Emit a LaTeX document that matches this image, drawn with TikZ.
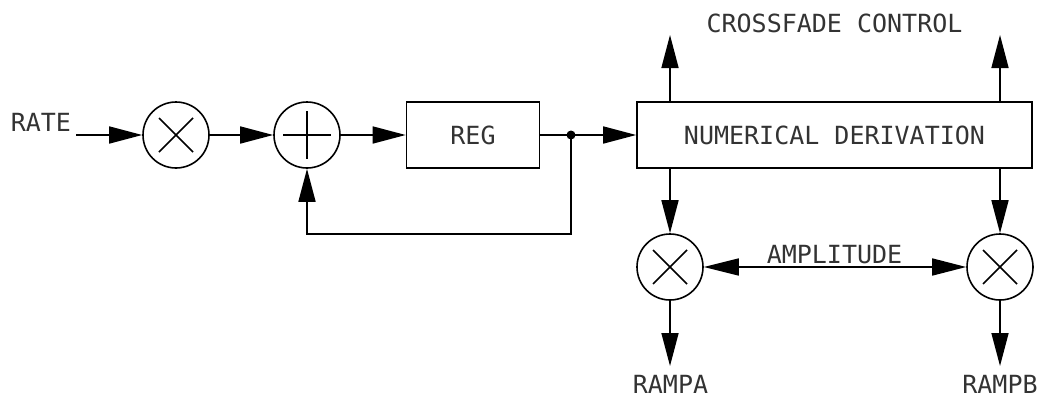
\documentclass[tikz,border=0pt]{standalone}
\usepackage{fontspec}
\newfontfamily\cadfont{DejaVu Sans Mono}
\usetikzlibrary{arrows.meta,calc}
\begin{document}
\begin{tikzpicture}[x=1pt,y=-1pt,
  line width=1.6pt,
  arr/.style={-{Triangle[length=33pt,width=17pt]}},
  lbl/.style={font=\cadfont\fontsize{25}{25}\selectfont, inner sep=0pt, text=black!80},
  opcircle/.style={draw, circle, minimum size=66pt, inner sep=0pt},
  block/.style={draw, rectangle, inner sep=0pt, font=\cadfont\fontsize{25}{25}\selectfont, text=black!80}
]
\useasboundingbox (0,0) rectangle (1046,399);
% nodes
\coordinate (in) at (76,135);
\node[lbl, anchor=base west] (rate) at (10,131) {RATE};
\node[opcircle] (m1) at (176,135) {};
\node[opcircle] (s1) at (307,135) {};
\node[block, minimum width=133pt, minimum height=66pt] (reg) at (473,135) {REG};
\node[block, minimum width=395pt, minimum height=66pt] (nd) at (834.5,135) {NUMERICAL DERIVATION};
\coordinate (dot) at (571,135);
\node[opcircle] (m2) at (670,267) {};
\node[opcircle] (m3) at (1000,267) {};
\coordinate (cfa) at (670,35);
\coordinate (cfb) at (1000,35);
\coordinate (ra) at (670,366);
\coordinate (rb) at (1000,366);
\coordinate (fb) at (571,234);
\node[lbl, anchor=base] (cf) at (834.5,32) {CROSSFADE CONTROL};
\node[lbl, anchor=base] (amp) at (834.5,263) {AMPLITUDE};
\node[lbl, anchor=base] (rampa) at (670.5,393) {RAMPA};
\node[lbl, anchor=base] (rampb) at (1000,393) {RAMPB};
% symbols inside circles
\foreach \c in {m1,m2,m3}{
  \draw ($(\c)+(-17,-17)$) -- ($(\c)+(17,17)$);
  \draw ($(\c)+(-17,17)$) -- ($(\c)+(17,-17)$);
}
\draw ($(s1)+(-24,0)$) -- ($(s1)+(24,0)$);
\draw ($(s1)+(0,-24)$) -- ($(s1)+(0,24)$);
% connectors
\draw[arr] (in) -- (m1.west);
\draw[arr] (m1.east) -- (s1.west);
\draw[arr] (s1.east) -- (reg.west);
\draw (reg.east) -- (dot);
\draw[arr] (dot) -- (nd.west);
\fill (dot) circle (4.5pt);
\draw[arr] (dot) -- (fb) -| (s1.south);
\draw[arr] (nd.north -| cfa) -- (cfa);
\draw[arr] (nd.north -| cfb) -- (cfb);
\draw[arr] (nd.south -| m2) -- (m2.north);
\draw[arr] (nd.south -| m3) -- (m3.north);
\draw[arr] (m2.south) -- (ra);
\draw[arr] (m3.south) -- (rb);
\draw[{Triangle[length=35pt,width=17pt]}-{Triangle[length=34pt,width=17pt]}] (m2.east) -- (m3.west);
\end{tikzpicture}
\end{document}
